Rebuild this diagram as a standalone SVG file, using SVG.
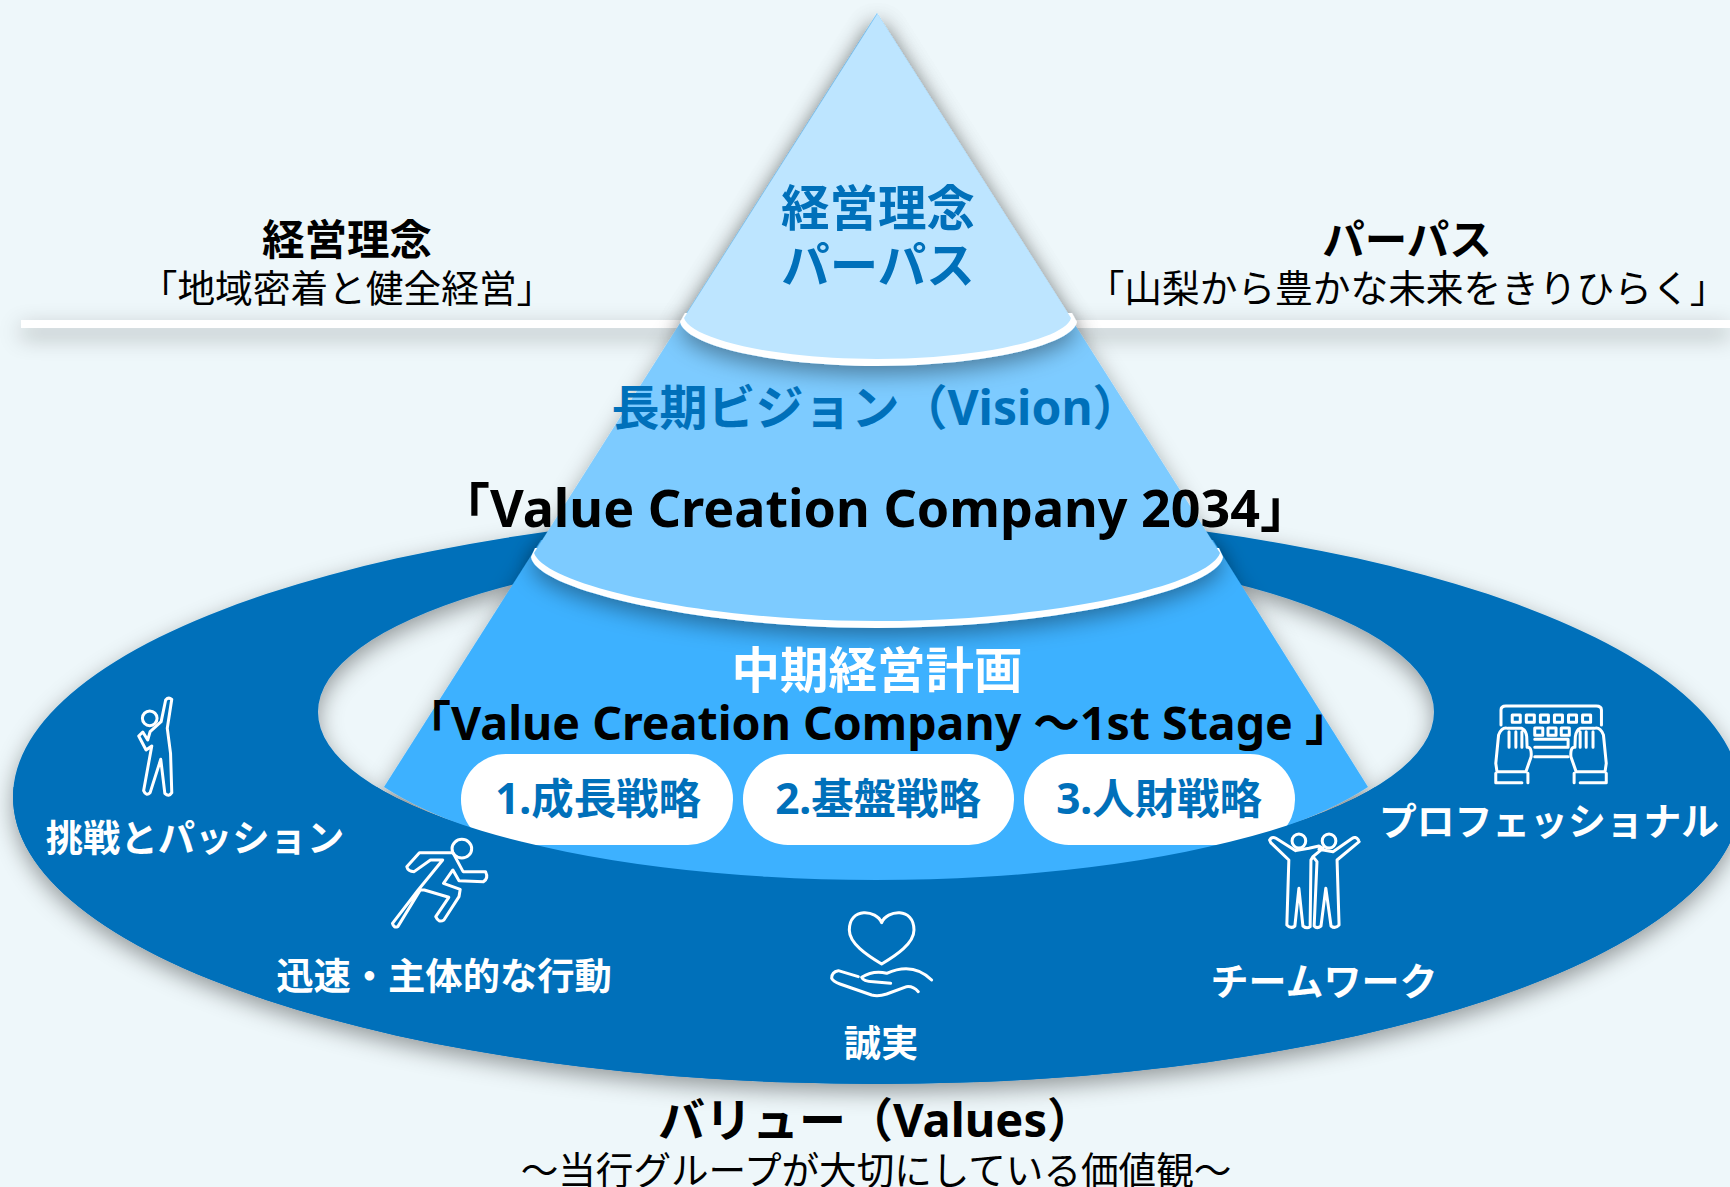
<svg xmlns="http://www.w3.org/2000/svg" width="1730" height="1187" viewBox="0 0 1730 1187">
<defs>
<style>
text{font-family:"Noto Sans","Noto Sans CJK JP",sans-serif;font-weight:700;text-anchor:middle}
.blue{fill:#0070BA}.black{fill:#000}.white{fill:#fff}
.reg{font-weight:400}
.ic{fill:none;stroke:#fff;stroke-width:3;stroke-linejoin:round;stroke-linecap:round;vector-effect:non-scaling-stroke}
</style>
<filter id="sh" filterUnits="userSpaceOnUse" x="0" y="0" width="1730" height="1187"><feDropShadow dx="0" dy="8" stdDeviation="11" flood-color="#000" flood-opacity=".38"/></filter>
<clipPath id="low"><rect x="0" y="787" width="1730" height="400"/></clipPath>
</defs>
<rect width="1730" height="1187" fill="#EEF7FA"/>
<g id="lines" filter="url(#sh)"><rect x="21" y="320" width="670" height="8" fill="#fff"/><rect x="1060" y="320" width="670" height="8" fill="#fff"/></g>
<g id="ring"><path filter="url(#sh)" fill-rule="evenodd" fill="#0070BA" d="M13 797A864 287 0 0 1 1741 797A864 287 0 0 1 13 797ZM318 712A558 168 0 0 0 1434 712A558 168 0 0 0 318 712Z"/></g>
<g id="tier3"><path filter="url(#sh)" fill="#3DB1FF" d="M541 540L384 787A557 190 0 0 0 1368 787L1213 540Z"/>
<rect x="461" y="754" width="272" height="91" rx="45" fill="#fff"/><rect x="743" y="754" width="271" height="91" rx="45" fill="#fff"/><rect x="1024" y="754" width="271" height="91" rx="45" fill="#fff"/></g>
<g id="ringfront"><path clip-path="url(#low)" fill-rule="evenodd" fill="#0070BA" d="M13 797A864 287 0 0 1 1741 797A864 287 0 0 1 13 797ZM318 712A558 168 0 0 0 1434 712A558 168 0 0 0 318 712Z"/></g>
<g id="tier2" filter="url(#sh)"><path fill="#fff" d="M535 548L531 557C536 590 700 628 877 628C1054 628 1218 590 1223 557L1219 548Z"/><path fill="#7DCBFF" d="M877 13L534 553C545 585 700 621 877 621C1054 621 1209 585 1220 553Z"/></g>
<g id="tier1" filter="url(#sh)"><path fill="#fff" d="M685 313L680 322C685 345 770 366 877 366C984 366 1072 345 1077 322L1072 313Z"/><path fill="#BDE5FF" d="M878 13L684 318C690 338 770 359 877 359C984 359 1066 338 1071 318L877 13Z"/></g>
<g id="n-top"><text class="blue" x="878" y="226" font-size="48.5">経営理念</text><text class="blue" x="878" y="283" font-size="48.5">パーパス</text></g>
<g id="n-rinen"><text class="black" x="347" y="255" font-size="42.5">経営理念</text><text class="black reg" x="347" y="302" font-size="37.7">「地域密着と健全経営」</text></g>
<g id="n-purpose"><text class="black" x="1407" y="255" font-size="42.5">パーパス</text><text class="black reg" x="1407" y="302" font-size="37.7">「山梨から豊かな未来をきりひらく」</text></g>
<g id="n-vision"><text class="blue" x="876" y="425" font-size="48">長期ビジョン（Vision）</text><text class="black" x="875" y="527" font-size="52">「Value Creation Company 2034」</text></g>
<g id="n-plan"><text class="white" x="877" y="688" font-size="48.5">中期経営計画</text><text class="black" x="878" y="740" font-size="46.5">「Value Creation Company ～1st Stage 」</text></g>
<g id="n-pills"><text class="blue" x="598" y="814" font-size="42.4">1.成長戦略</text><text class="blue" x="878" y="814" font-size="42.4">2.基盤戦略</text><text class="blue" x="1159" y="814" font-size="42.4">3.人財戦略</text></g>
<g id="n-challenge"><g transform="translate(0 660) scale(.408 .3333)"><ellipse class="ic" cx="367" cy="175" rx="18" ry="22"/><path class="ic" d="M406 120Q413 110 421 118L410 205L418 280L421 398Q414 412 404 400L394 298L368 398Q358 410 352 392L372 258L358 270L340 228L350 216L362 240L368 215L395 185Z"/></g><text class="white" x="195" y="852" font-size="37.3">挑戦とパッション</text></g>
<g id="n-speed"><g transform="translate(0 660) scale(.408 .3333)"><ellipse class="ic" cx="1132" cy="566" rx="24" ry="28"/><path class="ic" d="M1028 578L1110 578L1135 635L1190 635Q1198 655 1185 665L1125 662L1110 630L1087 670L1128 688L1125 710L1088 780Q1075 790 1068 770L1100 712L1040 690L1030 690L975 800Q965 805 962 790L1025 690L1085 600L1055 600L1015 635Q1000 635 997 620Z"/></g><text class="white" x="444" y="990" font-size="37.3">迅速・主体的な行動</text></g>
<g id="n-honest"><g transform="translate(700 880) scale(.3333)"><path class="ic" d="M545 128C530 90 448 80 448 150C448 190 500 225 545 252C590 225 642 190 642 150C642 80 560 90 545 128Z"/><path class="ic" d="M485 292Q520 270 560 280C600 262 650 255 695 300M475 290L415 272Q395 275 395 295Q400 305 420 312L515 345Q535 350 560 342L620 320Q640 318 655 335M485 292Q490 305 520 305L572 310"/></g><text class="white" x="881" y="1057" font-size="37.3">誠実</text></g>
<g id="n-team"><g transform="translate(1100 660) scale(.4018 .3333)"><ellipse class="ic" cx="495" cy="543" rx="17" ry="21"/><ellipse class="ic" cx="570" cy="543" rx="17" ry="21"/><path class="ic" d="M422 540Q428 528 438 535L487 572L520 565L545 558L555 565L530 590L525 600L523 800Q515 808 505 798L495 685L485 798Q475 808 465 795L470 600L425 548ZM643 540Q636 528 628 535L580 575L545 568M530 590L540 605L533 798Q540 808 550 798L562 685L575 798Q585 808 595 795L590 600L645 545"/></g><text class="white" x="1324" y="995" font-size="38">チームワーク</text></g>
<g id="n-pro"><g transform="translate(1100 660) scale(.4018 .3333)"><path class="ic" d="M998 195V150Q998 138 1010 138H1235Q1248 138 1248 150V195"/><path class="ic" d="M1026 165h20v22h-20zM1061 165h20v22h-20zM1096 165h20v22h-20zM1131 165h20v22h-20zM1166 165h20v22h-20zM1201 165h20v22h-20zM1082 204h20v22h-20zM1115 204h20v22h-20zM1148 204h20v22h-20zM1082 238H1165V262H1082M1082 290H1165"/><g id="hand"><path class="ic" d="M985 310L992 225Q1000 200 1015 205L1050 205Q1060 210 1062 230L1063 262Q1075 260 1073 290L1060 335H988ZM1018 215V262M1035 215V262M1050 215V262M985 340V368H1050M1065 340V368"/></g><use href="#hand" transform="matrix(-1 0 0 1 2245 0)"/></g><text class="white" x="1549" y="835" font-size="37.8">プロフェッショナル</text></g>
<g id="n-values"><text class="black" x="876" y="1137" font-size="47">バリュー（Values）</text><text class="black reg" x="876" y="1184" font-size="37.6">～当行グループが大切にしている価値観～</text></g>
</svg>
